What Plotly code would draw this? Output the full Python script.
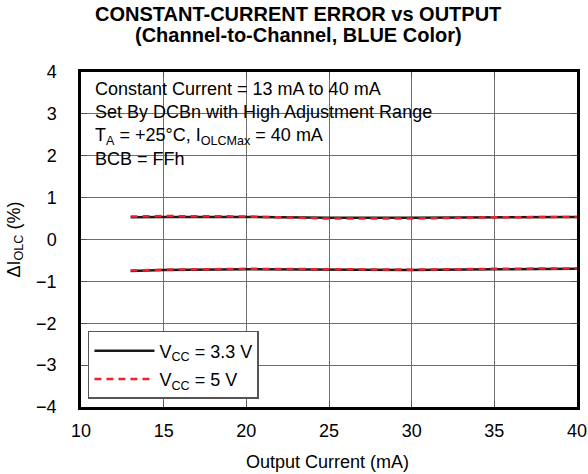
import plotly.graph_objects as go

# ---- data ----
current_ma = [13, 15, 20, 25, 30, 35, 40]
err_max_3v3 = [0.53, 0.54, 0.54, 0.52, 0.52, 0.53, 0.54]
err_max_5v = [0.55, 0.56, 0.55, 0.50, 0.50, 0.53, 0.54]
err_min_3v3 = [-0.75, -0.73, -0.71, -0.72, -0.73, -0.71, -0.70]
err_min_5v = [-0.74, -0.72, -0.70, -0.71, -0.72, -0.70, -0.69]

x_ticks = [10, 15, 20, 25, 30, 35, 40]
y_ticks = [-4, -3, -2, -1, 0, 1, 2, 3, 4]
y_tick_labels = ["\u22124", "\u22123", "\u22122", "\u22121", "0", "1", "2", "3", "4"]

series_names = ["V<sub>CC</sub> = 3.3 V", "V<sub>CC</sub> = 5 V"]
info_lines = [
    "Constant Current = 13 mA to 40 mA",
    "Set By DCBn with High Adjustment Range",
    "T<sub>A</sub> = +25\u00b0C, I<sub>OLCMax</sub> = 40 mA",
    "BCB = FFh",
]
title_lines = [
    "<b>CONSTANT-CURRENT ERROR vs OUTPUT</b>",
    "<b>(Channel-to-Channel, BLUE Color)</b>",
]

FONT = "Liberation Sans, Arial, Helvetica, sans-serif"
BLACK = "#1a1a1a"
RED = "#f0202a"

fig = go.Figure()

# black solid (3.3 V)
fig.add_trace(go.Scatter(x=current_ma, y=err_max_3v3, mode="lines",
                         line=dict(color=BLACK, width=2.5),
                         name=series_names[0], legendgroup="a", showlegend=True))
fig.add_trace(go.Scatter(x=current_ma, y=err_min_3v3, mode="lines",
                         line=dict(color=BLACK, width=2.5),
                         name=series_names[0], legendgroup="a", showlegend=False))
# red dashed (5 V)
fig.add_trace(go.Scatter(x=current_ma, y=err_max_5v, mode="lines",
                         line=dict(color=RED, width=2.5, dash="7px,5px"),
                         name=series_names[1], legendgroup="b", showlegend=True))
fig.add_trace(go.Scatter(x=current_ma, y=err_min_5v, mode="lines",
                         line=dict(color=RED, width=2.5, dash="7px,5px"),
                         name=series_names[1], legendgroup="b", showlegend=False))

# white box behind the condition text (covers gridlines)
fig.add_shape(type="rect", xref="paper", yref="paper",
              x0=0, x1=0.74, y0=0.687, y1=1,
              fillcolor="white", line=dict(width=0), layer="between")

line_y = [0.949, 0.881, 0.806, 0.740]
for txt, yy in zip(info_lines, line_y):
    fig.add_annotation(text=txt, xref="paper", yref="paper", x=0.024, y=yy,
                       xanchor="left", yanchor="middle", showarrow=False,
                       font=dict(family=FONT, size=18, color="black"))

title_y = [1.172, 1.109]
for txt, yy in zip(title_lines, title_y):
    fig.add_annotation(text=txt, xref="paper", yref="paper", x=0.4375, y=yy,
                       xanchor="center", yanchor="middle", showarrow=False,
                       borderpad=0,
                       font=dict(family=FONT, size=20, color="black"))

# axis titles as annotations for exact placement
fig.add_annotation(text="Output Current (mA)", xref="paper", yref="paper",
                   x=0.497, y=-0.164, xanchor="center", yanchor="middle",
                   showarrow=False, font=dict(family=FONT, size=18, color="black"))
fig.add_annotation(text="\u0394I<sub>OLC</sub> (%)", xref="paper", yref="paper",
                   x=-0.133, y=0.50, xanchor="center", yanchor="middle", textangle=-90,
                   showarrow=False, font=dict(family=FONT, size=18, color="black"))

fig.update_layout(
    width=588, height=474,
    margin=dict(l=81, r=11, t=72, b=67),
    paper_bgcolor="white", plot_bgcolor="white",
    font=dict(family=FONT, size=18, color="black"),
    showlegend=True,
    hovermode=False,
    legend=dict(x=0.014, y=0.024, xanchor="left", yanchor="bottom",
                bgcolor="white", bordercolor="#555555", borderwidth=1.5,
                font=dict(family=FONT, size=18, color="black"),
                traceorder="grouped", tracegroupgap=2, itemwidth=60),
    xaxis=dict(range=[10, 40], tickvals=x_ticks, ticktext=[str(v) for v in x_ticks],
               automargin=False,
               showgrid=True, gridcolor="#6e6e6e", gridwidth=1.4,
               zeroline=False, showline=True, linecolor="black", linewidth=2.5,
               mirror="ticks", ticks="inside", ticklen=6, tickcolor="#555555",
               tickwidth=1.3, ticklabelstandoff=6,
               tickfont=dict(family=FONT, size=18, color="black")),
    yaxis=dict(range=[-4, 4], tickvals=y_ticks, ticktext=y_tick_labels,
               automargin=False,
               showgrid=True, gridcolor="#6e6e6e", gridwidth=1.4,
               zeroline=False, showline=True, linecolor="black", linewidth=2.5,
               mirror="ticks", ticks="inside", ticklen=6, tickcolor="#555555",
               tickwidth=1.3, ticklabelstandoff=18,
               tickfont=dict(family=FONT, size=18, color="black")),
)

# remove the page's default 8px body margin so the figure fills the window exactly
fig.write_html("out.html",
               config={"displayModeBar": False},
               post_script="document.body.style.margin='0px';document.body.style.overflow='hidden';")
